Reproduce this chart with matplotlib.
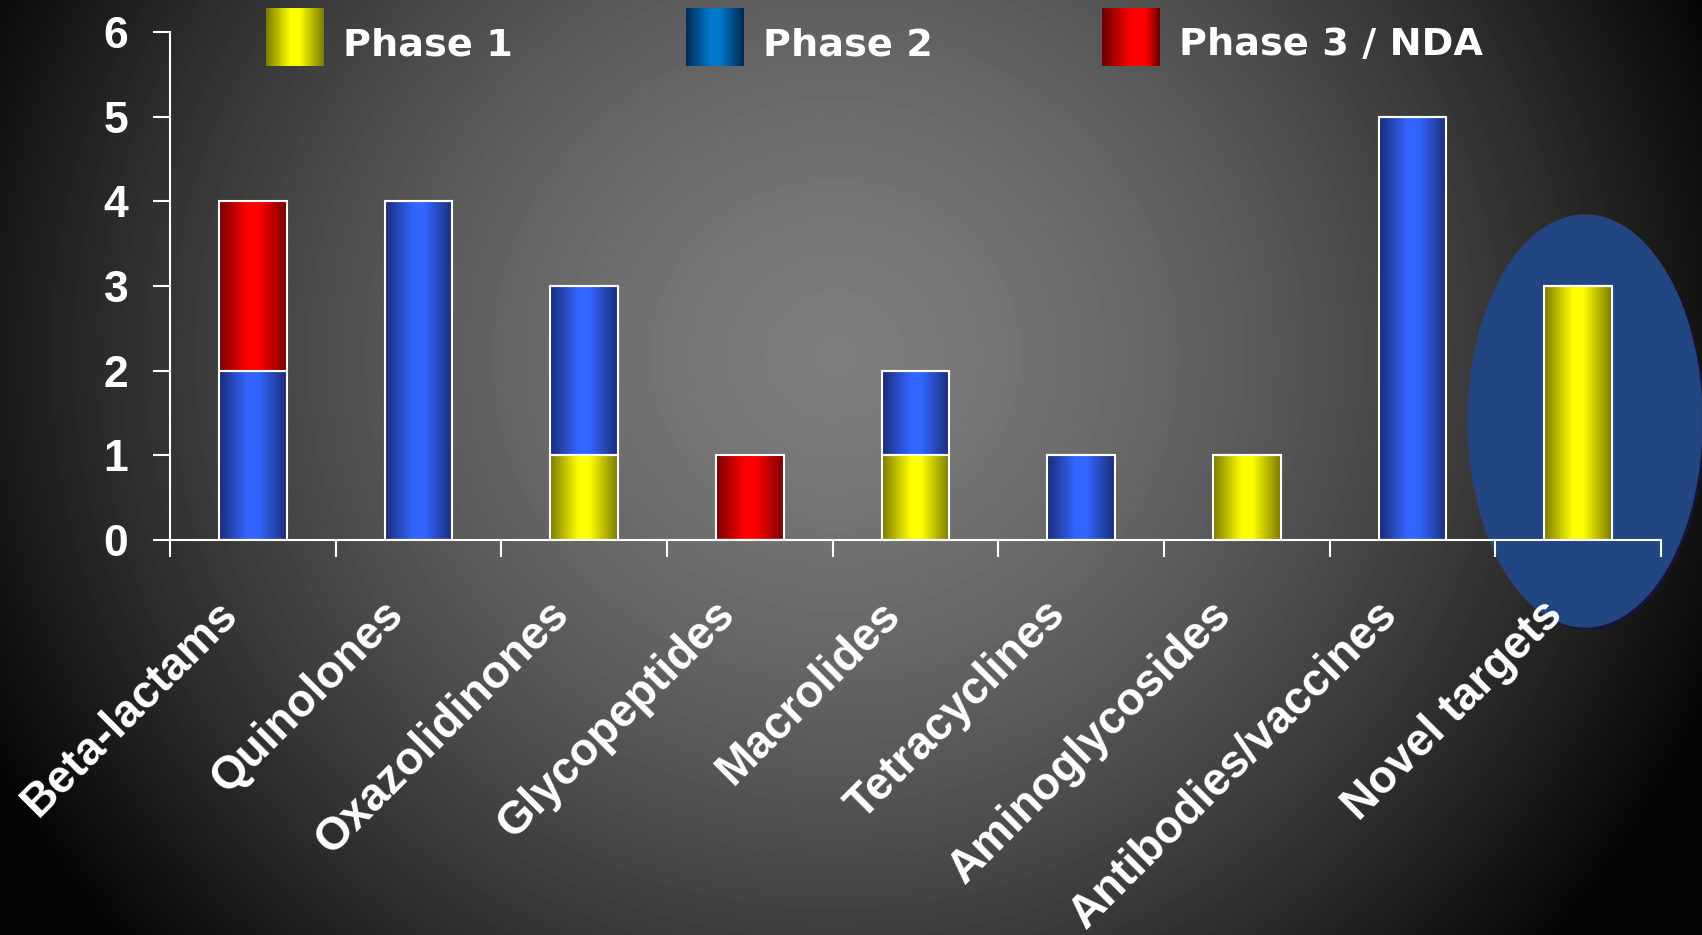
import numpy as np
import matplotlib
matplotlib.use("Agg")
import matplotlib.pyplot as plt
from matplotlib.colors import LinearSegmentedColormap
from matplotlib.patches import Ellipse
import matplotlib.transforms as mtransforms

categories = ["Beta-lactams", "Quinolones", "Oxazolidinones", "Glycopeptides",
              "Macrolides", "Tetracyclines", "Aminoglycosides",
              "Antibodies/vaccines", "Novel targets"]
phase1 = [0, 0, 1, 0, 1, 0, 1, 0, 3]
phase2 = [2, 4, 2, 0, 1, 1, 0, 5, 0]
phase3 = [2, 0, 0, 1, 0, 0, 0, 0, 0]
series_names = ["Phase 1", "Phase 2", "Phase 3 / NDA"]
y_ticks = [0, 1, 2, 3, 4, 5, 6]

plt.rcParams['font.family'] = ['Liberation Sans', 'DejaVu Sans']
plt.rcParams['font.weight'] = 'bold'

W, H = 1702, 935
fig = plt.figure(figsize=(W / 100, H / 100), dpi=100)


def shaded(dark, bright, stops=(0.0, 0.42, 0.58, 1.0)):
    return LinearSegmentedColormap.from_list(
        "", list(zip(stops, [dark, bright, bright, dark])))


bar_cmaps = [shaded("#7a7a00", "#ffff00"),
             shaded("#1a2c78", "#3366ff"),
             shaded("#7a0000", "#ff0000")]
legend_cmaps = [shaded("#7a7a00", "#ffff00"),
                shaded("#002a55", "#0078cc"),
                shaded("#6a0000", "#ff0000", (0.0, 0.5, 0.75, 1.0))]
ramp = np.linspace(0, 1, 256).reshape(1, -1)

# grey glow behind everything
bg = fig.add_axes([0, 0, 1, 1], zorder=-10)
yy, xx = np.mgrid[0:H, 0:W]
d = np.sqrt(((xx - 835) / 969.0) ** 2 + ((yy - 355) / 920.0) ** 2)
shade = np.clip(0.49 * (1 - d ** 1.5), 0.02, 1)
bg.imshow(shade, cmap="gray", vmin=0, vmax=1, extent=[0, 1, 0, 1], aspect="auto")
bg.axis("off")

ax = fig.add_axes([170 / W, 1 - 540 / H, 1491 / W, 508 / H])
ax.patch.set_alpha(0)

x = np.arange(len(categories))
bottom = np.zeros(len(categories))
for vals, cmap in zip([phase1, phase2, phase3], bar_cmaps):
    bars = ax.bar(x, vals, 0.41, bottom=bottom, facecolor="none",
                  edgecolor="white", linewidth=1.5, zorder=3)
    for b in bars:
        if b.get_height() == 0:
            continue
        bx, by = b.get_x(), b.get_y()
        ax.imshow(ramp, cmap=cmap, aspect="auto", zorder=2,
                  extent=[bx, bx + b.get_width(), by, by + b.get_height()])
    bottom += np.array(vals)

# highlight round the last group
ax.add_patch(Ellipse((1588 / W, 1 - 424 / H), 234 / W, 412 / H,
                     transform=fig.transFigure, facecolor="#12143e",
                     edgecolor="none", zorder=0.4, clip_on=False))
ax.add_patch(Ellipse((1585 / W, 1 - 421 / H), 234 / W, 412 / H,
                     transform=fig.transFigure, facecolor="#214682",
                     edgecolor="#2c4274", lw=1, zorder=0.5, clip_on=False))

ax.set_xlim(-0.5, 8.5)
ax.set_ylim(0, 6)
ax.set_yticks(y_ticks)
ax.set_xticks(x)
ax.set_xticklabels(categories, rotation=45, ha="right", va="center",
                   rotation_mode="anchor")
ax.set_xticks(np.arange(-0.5, 9, 1), minor=True)
ax.tick_params(axis="y", length=12, width=1.5, color="white",
               labelcolor="white", labelsize=32, pad=18)
ax.tick_params(axis="x", which="major", length=0, labelcolor="white",
               labelsize=33, pad=49)
ax.tick_params(axis="x", which="minor", length=12, width=1.5, color="white")
shift = mtransforms.ScaledTranslation(-22 / 100, 0, fig.dpi_scale_trans)
for lab in ax.get_xticklabels():
    lab.set_transform(lab.get_transform() + shift)
for s in ["top", "right"]:
    ax.spines[s].set_visible(False)
for s in ["left", "bottom"]:
    ax.spines[s].set_color("white")
    ax.spines[s].set_linewidth(1.5)

# legend across the top
for name, cmap, lx in zip(series_names, legend_cmaps, [266, 686, 1102]):
    sw = fig.add_axes([lx / W, 1 - 66 / H, 58 / W, 58 / H])
    sw.imshow(ramp, cmap=cmap, aspect="auto")
    sw.axis("off")
    fig.text((lx + 77) / W, 1 - 55 / H, name, color="white", fontsize=27.5,
             fontweight="bold", family="DejaVu Sans", va="baseline")

fig.savefig("out.png", dpi=100)
